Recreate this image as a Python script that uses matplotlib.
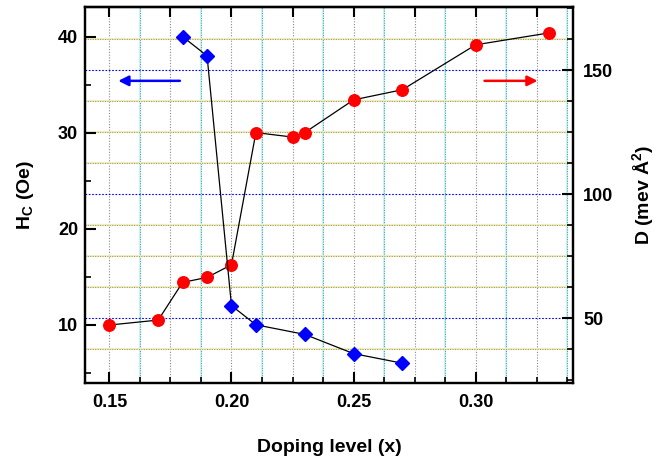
import numpy as np
import matplotlib
matplotlib.use("Agg")
import matplotlib.pyplot as plt
from matplotlib.ticker import MultipleLocator, NullFormatter

plt.rcParams["font.family"] = ["Liberation Sans", "DejaVu Sans"]
plt.rcParams["font.weight"] = "bold"

# Hc (left axis, blue diamonds)
x_hc = [0.18, 0.19, 0.20, 0.21, 0.23, 0.25, 0.27]
hc = [40.0, 38.0, 12.0, 10.0, 9.0, 7.0, 6.0]
# D (right axis, red circles)
x_d = [0.15, 0.17, 0.18, 0.19, 0.20, 0.21, 0.225, 0.23, 0.25, 0.27, 0.30, 0.33]
d = [47.2, 49.2, 64.4, 66.4, 71.5, 124.8, 123.0, 124.8, 138.0, 142.1, 160.2, 165.0]

fig = plt.figure(figsize=(6.69, 4.59), dpi=100)
ax = fig.add_axes([0.127, 0.166, 0.730, 0.819])
ax2 = ax.twinx()
ax.set_zorder(ax2.get_zorder() + 1)
ax.patch.set_visible(False)

ax.set_xlim(0.14, 0.34)
ax.set_ylim(3.96, 43.1)
ax2.set_ylim(23.9, 175.5)

# grid lines (drawn on the right axis, behind data)
for xv in np.arange(0.15, 0.34, 0.025):
    ax2.axvline(xv, color="#8a8a8a", ls=(0, (1, 1.5)), lw=0.8, zorder=0)
for xv in np.arange(0.1625, 0.34, 0.025):
    ax2.axvline(xv, color="#d3eeee", ls="-", lw=1.6, zorder=0)
    ax2.axvline(xv, color="#2aa8a8", ls=(0, (1, 1.5)), lw=0.7, zorder=0)
for yv in np.arange(37.5, 175, 12.5):
    if abs(yv % 50) < 1e-6:
        ax2.axhline(yv, color="blue", ls=(0, (1.5, 1.5)), lw=0.8, zorder=0)
    else:
        ax2.axhline(yv, color="#eeecc8", ls="-", lw=1.6, zorder=0)
        ax2.axhline(yv, color="#9a9840", ls=(0, (1, 1.5)), lw=0.7, zorder=0)

ax.plot(x_hc, hc, color="black", lw=0.9, marker="D", ms=7.5,
        mfc="blue", mec="blue", zorder=3)
ax2.plot(x_d, d, color="black", lw=0.9, marker="o", ms=8.3,
         mfc="red", mec="red", zorder=3)

# direction arrows
ax.annotate("", xy=(0.1525, 35.4), xytext=(0.180, 35.4),
            arrowprops=dict(arrowstyle="-|>", color="blue", lw=1.8,
                            mutation_scale=15), zorder=4)
ax.annotate("", xy=(0.3265, 35.4), xytext=(0.3025, 35.4),
            arrowprops=dict(arrowstyle="-|>", color="red", lw=1.8,
                            mutation_scale=15), zorder=4)

# ticks
ax.xaxis.set_major_locator(MultipleLocator(0.05))
ax.xaxis.set_minor_locator(MultipleLocator(0.0125))
ax.xaxis.set_major_formatter(lambda v, p: f"{v:.2f}")
ax.yaxis.set_major_locator(MultipleLocator(10))
ax.yaxis.set_minor_locator(MultipleLocator(5))
ax2.yaxis.set_major_locator(MultipleLocator(50))
ax2.yaxis.set_minor_locator(MultipleLocator(12.5))

ax.tick_params(axis="both", which="major", direction="in", length=8, width=1.5,
               labelsize=13)
ax.tick_params(axis="x", which="major", pad=8)
ax.tick_params(axis="y", which="major", pad=5)
ax.tick_params(axis="both", which="minor", direction="in", length=4, width=1.2)
ax2.tick_params(axis="y", which="major", direction="in", length=8, width=1.5,
                labelsize=13, pad=7)
ax2.tick_params(axis="y", which="minor", direction="in", length=4, width=1.2)

top = ax.secondary_xaxis("top")
top.xaxis.set_major_locator(MultipleLocator(0.025))
top.xaxis.set_major_formatter(NullFormatter())
top.tick_params(direction="in", length=7, width=1.5)

for a in (ax, ax2):
    for s in a.spines.values():
        s.set_linewidth(1.6)
for s in top.spines.values():
    s.set_linewidth(1.6)

ax.set_xlabel("Doping level (x)", fontsize=14, fontweight="bold", labelpad=20)
ax.set_ylabel("H$_\\mathregular{C}$ (Oe)", fontsize=14, fontweight="bold", labelpad=16)
ax2.set_ylabel("D (mev $\\mathregular{\\AA^2}$)", fontsize=14, fontweight="bold", labelpad=12)

fig.savefig("out.png", dpi=100)
